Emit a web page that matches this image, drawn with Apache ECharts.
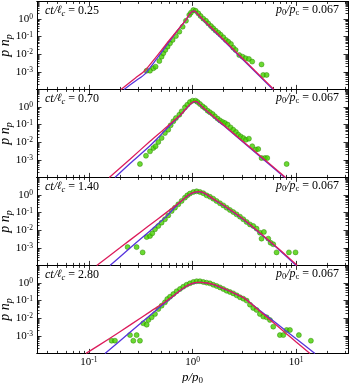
<!DOCTYPE html>
<html>
<head>
<meta charset="utf-8">
<script src="https://cdn.jsdelivr.net/npm/echarts@6/dist/echarts.min.js"></script>
<style>
  html, body { margin: 0; padding: 0; background: #fff; }
  #chart { width: 349px; height: 383px; }
</style>
</head>
<body>
<div id="chart"></div>
<script>
// all values are log10: [log10(p/p0), log10(p n_p)]
const tauLabels = ['0.25', '0.70', '1.40', '2.80'];
const ratioLabel = '0.067';
const xTickLabels = [-1, 0, 1];
const yTickLabels = [-3, -2, -1, 0];

// panel 1
const dots1 = [[-0.443,-2.94],[-0.41,-2.94],[-0.378,-2.80],[-0.356,-2.71],[-0.32,-2.39],[-0.298,-2.14],[-0.282,-1.95],[-0.262,-1.76],[-0.24,-1.57],[-0.217,-1.38],[-0.192,-1.19],[-0.16,-0.97],[-0.127,-0.72],[-0.095,-0.44],[-0.063,-0.1],[-0.031,0.23],[-0.015,0.36],[0.008,0.51],[0.03,0.47],[0.056,0.32],[0.078,0.17],[0.104,0.02],[0.13,-0.1],[0.152,-0.25],[0.178,-0.4],[0.2,-0.53],[0.223,-0.66],[0.249,-0.78],[0.271,-0.89],[0.297,-1.04],[0.322,-1.19],[0.345,-1.29],[0.371,-1.42],[0.393,-1.63],[0.416,-1.76],[0.451,-2.05],[0.483,-2.14],[0.512,-2.23],[0.544,-2.27],[0.576,-2.42],[0.666,-2.58],[0.682,-3.18],[0.715,-3.18]];
const red1 = [[-0.69,-4.0],[-0.55,-3.35],[-0.46,-2.94],[-0.35,-2.15],[-0.25,-1.4],[-0.15,-0.68],[-0.06,-0.02],[-0.03,0.26],[0.0,0.44],[0.02,0.45],[0.05,0.28],[0.1,-0.02],[0.2,-0.6],[0.4,-1.76],[0.6,-2.93],[0.785,-4.0]];
const blue1 = [[-0.66,-4.0],[-0.55,-3.52],[-0.46,-3.13],[-0.35,-2.3],[-0.25,-1.5],[-0.2,-1.1],[-0.15,-0.7],[-0.06,-0.03],[-0.03,0.25],[0.0,0.43],[0.02,0.44],[0.05,0.27],[0.1,-0.05],[0.2,-0.64],[0.4,-1.8],[0.6,-2.97],[0.775,-4.0]];

// panel 2
const dots2 = [[-0.507,-3.24],[-0.449,-2.77],[-0.41,-2.52],[-0.378,-2.33],[-0.356,-2.23],[-0.33,-1.99],[-0.298,-1.76],[-0.266,-1.48],[-0.234,-1.29],[-0.211,-1.04],[-0.185,-0.81],[-0.16,-0.63],[-0.127,-0.44],[-0.105,-0.25],[-0.073,-0.02],[-0.05,0.13],[-0.025,0.28],[0.001,0.36],[0.03,0.36],[0.049,0.28],[0.072,0.17],[0.097,0.04],[0.12,-0.06],[0.146,-0.21],[0.168,-0.3],[0.194,-0.4],[0.216,-0.53],[0.242,-0.66],[0.265,-0.76],[0.29,-0.85],[0.313,-0.91],[0.339,-1.0],[0.367,-1.16],[0.393,-1.29],[0.419,-1.42],[0.441,-1.57],[0.464,-1.67],[0.49,-1.76],[0.515,-1.86],[0.544,-1.8],[0.576,-2.23],[0.612,-2.42],[0.634,-2.39],[0.666,-2.9],[0.699,-2.9],[0.721,-2.9],[0.908,-3.24]];
const red2 = [[-0.803,-4.0],[-0.6,-2.95],[-0.41,-1.95],[-0.28,-1.29],[-0.12,-0.47],[-0.04,0.05],[0.0,0.27],[0.025,0.32],[0.05,0.27],[0.1,-0.03],[0.3,-1.02],[0.6,-2.52],[0.898,-4.0]];
const blue2 = [[-0.748,-4.0],[-0.6,-3.2],[-0.41,-2.2],[-0.3,-1.55],[-0.2,-0.94],[-0.12,-0.48],[-0.04,0.04],[0.0,0.26],[0.025,0.31],[0.05,0.26],[0.1,-0.05],[0.3,-1.05],[0.6,-2.56],[0.89,-4.0]];

// panel 3
const dots3 = [[-0.626,-2.96],[-0.539,-2.96],[-0.481,-3.26],[-0.442,-2.39],[-0.41,-2.33],[-0.388,-2.18],[-0.362,-1.95],[-0.33,-1.76],[-0.298,-1.57],[-0.266,-1.38],[-0.234,-1.16],[-0.201,-0.91],[-0.169,-0.72],[-0.137,-0.53],[-0.105,-0.34],[-0.073,-0.15],[-0.05,-0.02],[-0.025,0.08],[0.008,0.17],[0.04,0.21],[0.072,0.17],[0.104,0.1],[0.136,-0.02],[0.168,-0.1],[0.2,-0.21],[0.232,-0.34],[0.265,-0.47],[0.297,-0.59],[0.329,-0.72],[0.361,-0.85],[0.393,-0.97],[0.425,-1.1],[0.458,-1.23],[0.49,-1.38],[0.522,-1.53],[0.554,-1.67],[0.586,-1.76],[0.618,-1.91],[0.65,-2.14],[0.689,-2.1],[0.666,-2.48],[0.731,-2.48],[0.753,-2.71],[0.779,-2.8],[0.811,-3.26],[0.93,-3.26],[0.994,-3.26]];
const red3 = [[-0.924,-4.0],[-0.7,-3.0],[-0.5,-2.1],[-0.35,-1.43],[-0.17,-0.63],[-0.09,-0.25],[-0.03,0.03],[0.02,0.16],[0.06,0.19],[0.1,0.15],[0.15,-0.01],[0.2,-0.22],[0.3,-0.58],[0.4,-0.98],[0.52,-1.5],[0.7,-2.4],[0.85,-3.15],[1.01,-4.0]];
const blue3 = [[-0.796,-4.0],[-0.6,-3.0],[-0.41,-2.04],[-0.25,-1.2],[-0.15,-0.58],[-0.09,-0.26],[-0.03,0.02],[0.02,0.15],[0.06,0.18],[0.1,0.14],[0.15,-0.03],[0.2,-0.24],[0.3,-0.61],[0.4,-1.01],[0.52,-1.53],[0.7,-2.43],[0.85,-3.19],[1.0,-4.0]];

// panel 4
const dots4 = [[-0.78,-3.28],[-0.748,-3.28],[-0.603,-2.96],[-0.571,-3.28],[-0.539,-2.96],[-0.507,-3.28],[-0.475,-2.29],[-0.442,-2.37],[-0.426,-2.1],[-0.394,-1.95],[-0.362,-1.76],[-0.33,-1.48],[-0.298,-1.29],[-0.266,-1.1],[-0.243,-0.91],[-0.217,-0.78],[-0.185,-0.63],[-0.153,-0.47],[-0.121,-0.34],[-0.089,-0.21],[-0.057,-0.1],[-0.025,-0.02],[0.008,0.06],[0.04,0.1],[0.072,0.1],[0.104,0.06],[0.136,0.02],[0.168,-0.02],[0.2,-0.1],[0.233,-0.17],[0.265,-0.25],[0.297,-0.34],[0.329,-0.44],[0.361,-0.51],[0.393,-0.59],[0.426,-0.7],[0.458,-0.81],[0.49,-0.89],[0.522,-1.0],[0.554,-1.23],[0.586,-1.42],[0.618,-1.53],[0.65,-1.76],[0.683,-1.91],[0.715,-1.95],[0.747,-2.1],[0.779,-2.48],[0.843,-2.96],[0.876,-2.96],[0.908,-2.67],[0.94,-2.67],[1.026,-2.96],[1.142,-3.28]];
const red4 = [[-1.027,-4.0],[-0.8,-3.15],[-0.6,-2.38],[-0.4,-1.6],[-0.28,-1.14],[-0.2,-0.8],[-0.14,-0.52],[-0.08,-0.26],[-0.02,-0.06],[0.04,0.03],[0.08,0.04],[0.14,0.0],[0.2,-0.08],[0.27,-0.24],[0.36,-0.46],[0.44,-0.68],[0.5,-0.86],[0.6,-1.35],[0.7,-1.85],[0.8,-2.35],[0.9,-2.85],[1.0,-3.35],[1.133,-4.0]];
const blue4 = [[-0.844,-4.0],[-0.6,-2.79],[-0.4,-1.79],[-0.28,-1.2],[-0.2,-0.82],[-0.14,-0.53],[-0.08,-0.27],[-0.02,-0.07],[0.04,0.02],[0.08,0.03],[0.14,-0.01],[0.2,-0.09],[0.27,-0.25],[0.36,-0.47],[0.44,-0.69],[0.5,-0.87],[0.6,-1.33],[0.8,-2.25],[1.0,-3.17],[1.181,-4.0]];

const panels = [
  { dots: dots1, red: red1, blue: blue1 },
  { dots: dots2, red: red2, blue: blue2 },
  { dots: dots3, red: red3, blue: blue3 },
  { dots: dots4, red: red4, blue: blue4 }
];

const RED = '#dc1c5c';
const BLUE = '#5533dd';
const FONT = 'Liberation Serif';

// log-style minor tick positions
function minorTicks(lo, hi) {
  const out = [];
  for (let d = Math.floor(lo); d <= Math.ceil(hi); d++) {
    for (let k = 2; k <= 9; k++) {
      const v = d + Math.log10(k);
      if (v > lo && v < hi) out.push(v);
    }
  }
  return out;
}
const xMinor = minorTicks(-1.5, 1.5);
const yMinor = minorTicks(-4, 1);

const powRich = {
  b: { fontFamily: FONT, fontSize: 11, color: '#000' },
  s: { fontFamily: FONT, fontSize: 7.5, color: '#000', verticalAlign: 'top', lineHeight: 12 }
};
const powFmt = v => '{b|10}{s|' + Math.round(v) + '}';

function xAxis(k, pos, ticks, len, showLabel) {
  const ax = {
    type: 'value', gridIndex: k, position: pos, min: -1.5, max: 1.5,
    axisLine: { show: true, onZero: false, lineStyle: { color: '#000', width: 1 } },
    axisTick: { show: true, inside: true, length: len, customValues: ticks, lineStyle: { color: '#000', width: 0.8 } },
    axisLabel: { show: showLabel, customValues: xTickLabels, formatter: powFmt, rich: powRich, margin: 3 },
    splitLine: { show: false }
  };
  if (showLabel) {
    ax.name = '{i|p/p}{s|0}';
    ax.nameLocation = 'middle';
    ax.nameGap = 16;
    ax.nameMoveOverlap = false;
    ax.nameTextStyle = {
      verticalAlign: 'top',
      rich: {
        i: { fontFamily: FONT, fontStyle: 'italic', fontSize: 13, color: '#000' },
        s: { fontFamily: FONT, fontSize: 9, color: '#000', verticalAlign: 'bottom', lineHeight: 16 }
      }
    };
  }
  return ax;
}

function yAxis(k, pos, ticks, len, showLabel) {
  const ax = {
    type: 'value', gridIndex: k, position: pos, min: -4, max: 1,
    axisLine: { show: true, onZero: false, lineStyle: { color: '#000', width: 1 } },
    axisTick: { show: true, inside: true, length: len, customValues: ticks, lineStyle: { color: '#000', width: 0.8 } },
    axisLabel: { show: showLabel, customValues: yTickLabels, formatter: powFmt, rich: powRich, margin: 4 },
    splitLine: { show: false }
  };
  if (showLabel) {
    ax.name = '{i|p n}{s|p}';
    ax.nameLocation = 'middle';
    ax.nameRotate = 90;
    ax.nameGap = 23;
    ax.nameMoveOverlap = false;
    ax.nameTextStyle = {
      rich: {
        i: { fontFamily: FONT, fontStyle: 'italic', fontSize: 14, color: '#000' },
        s: { fontFamily: FONT, fontStyle: 'italic', fontSize: 10, color: '#000', verticalAlign: 'bottom', lineHeight: 18 }
      }
    };
  }
  return ax;
}

const option = {
  animation: false,
  backgroundColor: '#fff',
  grid: [], xAxis: [], yAxis: [], series: [], graphic: []
};

const annRich = {
  i: { fontFamily: FONT, fontStyle: 'italic', fontSize: 12, fill: '#000' },
  l: { fontFamily: 'DejaVu Serif', fontStyle: 'italic', fontSize: 11, fill: '#000' },
  s: { fontFamily: FONT, fontStyle: 'italic', fontSize: 8.5, fill: '#000', verticalAlign: 'bottom', lineHeight: 15 },
  n: { fontFamily: FONT, fontSize: 12, fill: '#000' },
  r: { fontFamily: FONT, fontSize: 8.5, fill: '#000', verticalAlign: 'bottom', lineHeight: 15 }
};

panels.forEach((p, k) => {
  const top = 1.4 + 88 * k;
  option.grid.push({ left: 37, right: 1, top: top, height: 88, outerBoundsMode: 'none', containLabel: false });
  const xi = option.xAxis.length;
  const yi = option.yAxis.length;
  option.xAxis.push(xAxis(k, 'bottom', xTickLabels, 4.5, k === 3));
  option.xAxis.push(xAxis(k, 'bottom', xMinor, 2.5, false));
  option.xAxis.push(xAxis(k, 'top', xTickLabels, 4.5, false));
  option.xAxis.push(xAxis(k, 'top', xMinor, 2.5, false));
  option.yAxis.push(yAxis(k, 'left', [-3, -2, -1, 0], 4.5, true));
  option.yAxis.push(yAxis(k, 'left', yMinor, 2.5, false));
  option.yAxis.push(yAxis(k, 'right', [-3, -2, -1, 0], 4.5, false));
  option.yAxis.push(yAxis(k, 'right', yMinor, 2.5, false));

  option.series.push({
    type: 'scatter', xAxisIndex: xi, yAxisIndex: yi, data: p.dots,
    symbolSize: 5, itemStyle: { color: '#46d000', borderColor: '#2b8400', borderWidth: 0.6 }, z: 2
  });
  option.series.push({
    type: 'line', xAxisIndex: xi, yAxisIndex: yi, data: p.blue, showSymbol: false, smooth: 0.25,
    lineStyle: { color: BLUE, width: 1.3 }, z: 3
  });
  option.series.push({
    type: 'line', xAxisIndex: xi, yAxisIndex: yi, data: p.red, showSymbol: false, smooth: 0.25,
    lineStyle: { color: RED, width: 1.3 }, z: 4
  });

  option.graphic.push({
    type: 'text', x: 45, y: top + 9,
    style: { text: '{i|ct/}{l|ℓ}{s|c}{n| = ' + tauLabels[k] + '}', rich: annRich, verticalAlign: 'middle' }
  });
  option.graphic.push({
    type: 'text', x: 339, y: top + 8,
    style: { text: '{i|p}{r|0}{i|/p}{r|c}{n| = ' + ratioLabel + '}', rich: annRich, align: 'right', verticalAlign: 'middle' }
  });
});

const chart = echarts.init(document.getElementById('chart'));
chart.setOption(option);
</script>
</body>
</html>
